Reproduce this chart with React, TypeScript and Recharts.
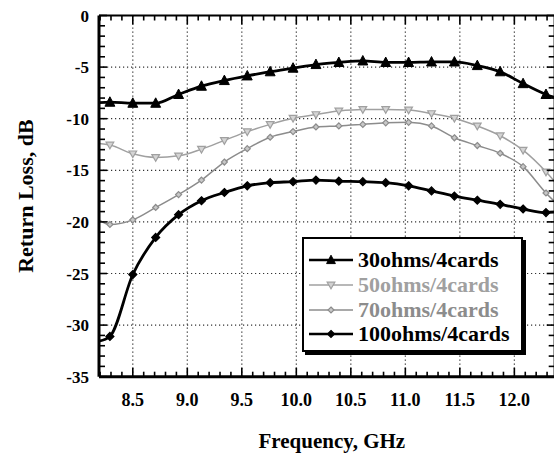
import { LineChart, Line, CartesianGrid, XAxis, YAxis, Legend } from "recharts";

// frequency sweep (GHz); first and last points sit on the plot edges, no marker
const freq = [
  8.19, 8.29, 8.5, 8.71, 8.92, 9.13, 9.34, 9.55, 9.76, 9.97, 10.18, 10.39,
  10.61, 10.82, 11.03, 11.24, 11.45, 11.66, 11.87, 12.08, 12.29, 12.37,
];

const rl30 = [
  -8.45, -8.4, -8.5, -8.5, -7.65, -6.85, -6.3, -5.85, -5.45, -5.1, -4.75,
  -4.55, -4.4, -4.55, -4.55, -4.5, -4.5, -4.85, -5.45, -6.6, -7.65, -7.95,
];
const rl50 = [
  -12.4, -12.55, -13.4, -13.75, -13.6, -12.95, -12.1, -11.25, -10.55, -9.95,
  -9.6, -9.25, -9.1, -9.1, -9.15, -9.5, -9.95, -10.7, -11.65, -13.05, -15.15,
  -16.1,
];
const rl70 = [
  -19.8, -20.25, -19.8, -18.6, -17.35, -15.95, -14.2, -12.9, -11.8, -11.25,
  -10.8, -10.7, -10.55, -10.4, -10.35, -10.7, -11.85, -12.6, -13.35, -14.65,
  -17.2, -18.05,
];
const rl100 = [
  -31.55, -31.1, -25.1, -21.5, -19.3, -17.95, -17.15, -16.5, -16.2, -16.1,
  -15.95, -16.05, -16.1, -16.2, -16.5, -17.0, -17.5, -17.9, -18.3, -18.75,
  -19.1, -19.05,
];

const xMajor = [8.5, 9.0, 9.5, 10.0, 10.5, 11.0, 11.5, 12.0];
const yGrid = [-5, -10, -15, -20, -25, -30];

// minor ticks every 0.1 GHz and every 1 dB
const xTicks: number[] = [];
for (let i = 82; i <= 123; i++) xTicks.push(i / 10);
const yTicks: number[] = [];
for (let i = 0; i >= -35; i--) yTicks.push(i);

const data = freq.map((f, i) => ({
  f,
  r30: rl30[i],
  r50: rl50[i],
  r70: rl70[i],
  r100: rl100[i],
}));

const FONT = "'Liberation Serif', 'Times New Roman', serif";
const GRAY50 = "#a0a0a0";
const GRAY70 = "#8c8c8c";
const X_DOMAIN = [8.19, 12.37];

const isMajorX = (v: number) => Math.abs(v * 2 - Math.round(v * 2)) < 1e-6;
const isMajorY = (v: number) => v % 5 === 0;

type Shape = "tri" | "triDown" | "diamond";

function marker(shape: Shape, cx: number, cy: number, fill: string, stroke: string, s: number) {
  if (shape === "tri") {
    const pts = `${cx},${cy - s * 0.6} ${cx - s * 0.55},${cy + s * 0.45} ${cx + s * 0.55},${cy + s * 0.45}`;
    return <polygon points={pts} fill={fill} stroke={stroke} strokeWidth={1} />;
  }
  if (shape === "triDown") {
    const pts = `${cx - s * 0.55},${cy - s * 0.4} ${cx + s * 0.55},${cy - s * 0.4} ${cx},${cy + s * 0.55}`;
    return <polygon points={pts} fill={fill} stroke={stroke} strokeWidth={1.2} />;
  }
  const pts = `${cx},${cy - s / 2} ${cx + s / 2},${cy} ${cx},${cy + s / 2} ${cx - s / 2},${cy}`;
  return <polygon points={pts} fill={fill} stroke={stroke} strokeWidth={1.2} />;
}

const makeDot = (shape: Shape, fill: string, stroke: string, s: number) => (props: any) => {
  const { cx, cy, index } = props;
  if (index === 0 || index === freq.length - 1 || cx == null) return <g key={`d${index}`} />;
  return <g key={`d${index}`}>{marker(shape, cx, cy, fill, stroke, s)}</g>;
};

// inward tick marks; labels only on the major values
const BottomTick = ({ x, y, payload }: any) => {
  const major = isMajorX(payload.value);
  return (
    <g>
      <path d={`M${x},${y}V${y - (major ? 9 : 5)}`} stroke="#000" strokeWidth={1.6} fill="none" />
      {major && (
        <text x={x} y={y + 29} textAnchor="middle" fontFamily={FONT} fontWeight="bold" fontSize={18} fill="#000">
          {payload.value.toFixed(1)}
        </text>
      )}
    </g>
  );
};

const TopTick = ({ x, y, payload }: any) => {
  const major = isMajorX(payload.value);
  return <path d={`M${x},${y}V${y + (major ? 9 : 5)}`} stroke="#000" strokeWidth={1.6} fill="none" />;
};

const LeftTick = ({ x, y, payload }: any) => {
  const major = isMajorY(payload.value);
  return (
    <g>
      <path d={`M${x},${y}H${x + (major ? 8 : 6)}`} stroke="#000" strokeWidth={1.6} fill="none" />
      {major && (
        <text x={x - 10} y={y + 6} textAnchor="end" fontFamily={FONT} fontWeight="bold" fontSize={17} fill="#000">
          {String(payload.value)}
        </text>
      )}
    </g>
  );
};

const RightTick = ({ x, y, payload }: any) => {
  const major = isMajorY(payload.value);
  return <path d={`M${x},${y}H${x - (major ? 8 : 6)}`} stroke="#000" strokeWidth={1.6} fill="none" />;
};

const legendRows = [
  { name: "30ohms/4cards", color: "#000", width: 2.5, shape: "tri" as Shape, fill: "#000", s: 8 },
  { name: "50ohms/4cards", color: GRAY50, width: 1.5, shape: "triDown" as Shape, fill: "#d0d0d0", s: 7 },
  { name: "70ohms/4cards", color: GRAY70, width: 1.5, shape: "diamond" as Shape, fill: "#c8c8c8", s: 6 },
  { name: "100ohms/4cards", color: "#000", width: 2.5, shape: "diamond" as Shape, fill: "#000", s: 7 },
];

const renderLegend = () => (
  <div
    style={{
      width: 221,
      height: 115,
      boxSizing: "border-box",
      border: "2px solid #000",
      boxShadow: "3px 3px 0 #000",
      background: "#fff",
      paddingTop: 9,
      paddingLeft: 5,
    }}
  >
    {legendRows.map((r) => (
      <div key={r.name} style={{ display: "flex", alignItems: "center", height: 24.7 }}>
        <svg width={44} height={14} style={{ flex: "none" }}>
          <line x1={0} x2={44} y1={7} y2={7} stroke={r.color} strokeWidth={r.width} />
          {marker(r.shape, 22, 7, r.fill, r.color, r.s)}
        </svg>
        <span
          style={{
            marginLeft: 5,
            fontFamily: FONT,
            fontWeight: "bold",
            fontSize: 22,
            lineHeight: "24px",
            color: r.color,
            whiteSpace: "nowrap",
          }}
        >
          {r.name}
        </span>
      </div>
    ))}
  </div>
);

export default function App() {
  return (
    <div
      style={{
        position: "absolute",
        left: 0,
        top: 0,
        width: 554,
        height: 454,
        overflow: "hidden",
        background: "#fff",
      }}
    >
      <LineChart width={556} height={454} data={data} margin={{ top: 14.5, right: 0.3, bottom: 0, left: 0 }}>
        <CartesianGrid
          verticalValues={xMajor}
          horizontalValues={yGrid}
          stroke="#333"
          strokeWidth={1.2}
          strokeDasharray="1.2 2.8"
        />
        <XAxis
          dataKey="f"
          type="number"
          domain={X_DOMAIN}
          allowDataOverflow
          ticks={xTicks}
          interval={0}
          tickSize={0}
          tickMargin={0}
          tickLine={false}
          tick={<BottomTick />}
          height={77.3}
          axisLine={{ stroke: "#000", strokeWidth: 3 }}
          label={{
            value: "Frequency, GHz",
            position: "insideBottom",
            offset: 6,
            dx: 5,
            fontFamily: FONT,
            fontWeight: "bold",
            fontSize: 21,
            fill: "#000",
          }}
        />
        <XAxis
          xAxisId="top"
          orientation="top"
          dataKey="f"
          type="number"
          domain={X_DOMAIN}
          allowDataOverflow
          ticks={xTicks}
          interval={0}
          tickSize={0}
          tickMargin={0}
          tickLine={false}
          tick={<TopTick />}
          height={1}
          axisLine={{ stroke: "#000", strokeWidth: 2.2 }}
        />
        <YAxis
          type="number"
          domain={[-35, 0]}
          allowDataOverflow
          ticks={yTicks}
          interval={0}
          tickSize={0}
          tickMargin={0}
          tickLine={false}
          tick={<LeftTick />}
          width={99}
          axisLine={{ stroke: "#000", strokeWidth: 3 }}
          label={{
            value: "Return Loss, dB",
            angle: -90,
            position: "insideLeft",
            offset: 25,
            fontFamily: FONT,
            fontWeight: "bold",
            fontSize: 22,
            fill: "#000",
            style: { textAnchor: "middle" },
          }}
        />
        <YAxis
          yAxisId="right"
          orientation="right"
          type="number"
          domain={[-35, 0]}
          allowDataOverflow
          ticks={yTicks}
          interval={0}
          tickSize={0}
          tickMargin={0}
          tickLine={false}
          tick={<RightTick />}
          width={1}
          axisLine={{ stroke: "#000", strokeWidth: 2.2 }}
        />
        <Legend
          layout="vertical"
          align="center"
          verticalAlign="middle"
          content={renderLegend}
          wrapperStyle={{ left: 302, top: 237 }}
        />
        <Line
          type="monotone"
          dataKey="r50"
          stroke={GRAY50}
          strokeWidth={1.5}
          dot={makeDot("triDown", "#d4d4d4", GRAY50, 7)}
          isAnimationActive={false}
        />
        <Line
          type="monotone"
          dataKey="r70"
          stroke={GRAY70}
          strokeWidth={1.5}
          dot={makeDot("diamond", "#c8c8c8", GRAY70, 6)}
          isAnimationActive={false}
        />
        <Line
          type="monotone"
          dataKey="r30"
          stroke="#000"
          strokeWidth={2.8}
          dot={makeDot("tri", "#000", "#000", 9)}
          isAnimationActive={false}
        />
        <Line
          type="monotone"
          dataKey="r100"
          stroke="#000"
          strokeWidth={2.8}
          dot={makeDot("diamond", "#000", "#000", 8)}
          isAnimationActive={false}
        />
      </LineChart>
    </div>
  );
}
